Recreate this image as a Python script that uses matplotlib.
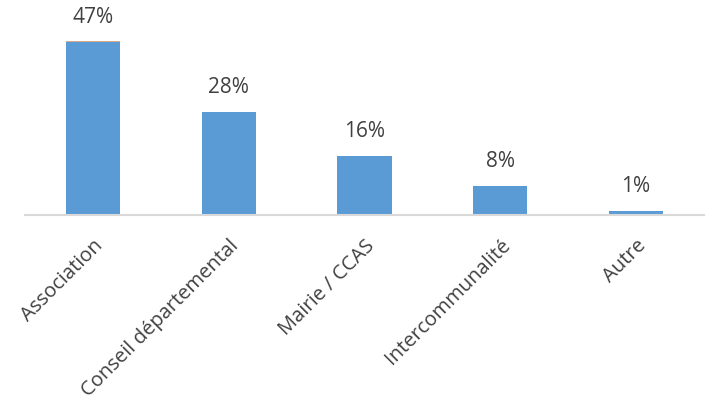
import matplotlib
matplotlib.use("Agg")
import matplotlib.pyplot as plt
import numpy as np

categories = ["Association", "Conseil départemental", "Mairie / CCAS", "Intercommunalité", "Autre"]
values = [47, 28, 16, 8, 1]
labels = ["47%", "28%", "16%", "8%", "1%"]
series2 = [0.15, 0, 0, 0, 0]
series3 = [0, 0, 0.12, 0, 0.1]

plt.rcParams['font.family'] = ['Open Sans', 'DejaVu Sans']

fig = plt.figure(figsize=(7.09, 4.03), dpi=100)
ax = fig.add_axes([25/709, (403-215)/403, 679/709, 184/403])

x = np.arange(len(categories))
ax.bar(x, values, width=0.4, color="#5B9BD5", zorder=2)
ax.bar(x, series2, width=0.4, bottom=values, color="#D9A98C", zorder=2)
ax.bar(x, series3, width=0.4, bottom=np.array(values) + np.array(series2), color="#A5A5A5", zorder=2)

for xi, v, lab in zip(x, values, labels):
    ax.annotate(lab, (xi, v), xytext=(0, 10), textcoords="offset points",
                ha="center", va="bottom", fontsize=15, color="#404040")

ax.set_xlim(-0.5, len(categories) - 0.5)
ax.set_ylim(0, 50)
ax.set_yticks([])
for s in ["top", "right", "left"]:
    ax.spines[s].set_visible(False)
ax.spines["bottom"].set_color("#D9D9D9")
ax.spines["bottom"].set_linewidth(1.5)
ax.spines["bottom"].set_zorder(3)
ax.set_xticks(x)
ax.set_xticklabels(categories, rotation=45, ha="right", rotation_mode="anchor",
                   fontsize=14.5, color="#404040")
ax.tick_params(axis="x", length=0, pad=15)

fig.savefig("out.png", dpi=100)
